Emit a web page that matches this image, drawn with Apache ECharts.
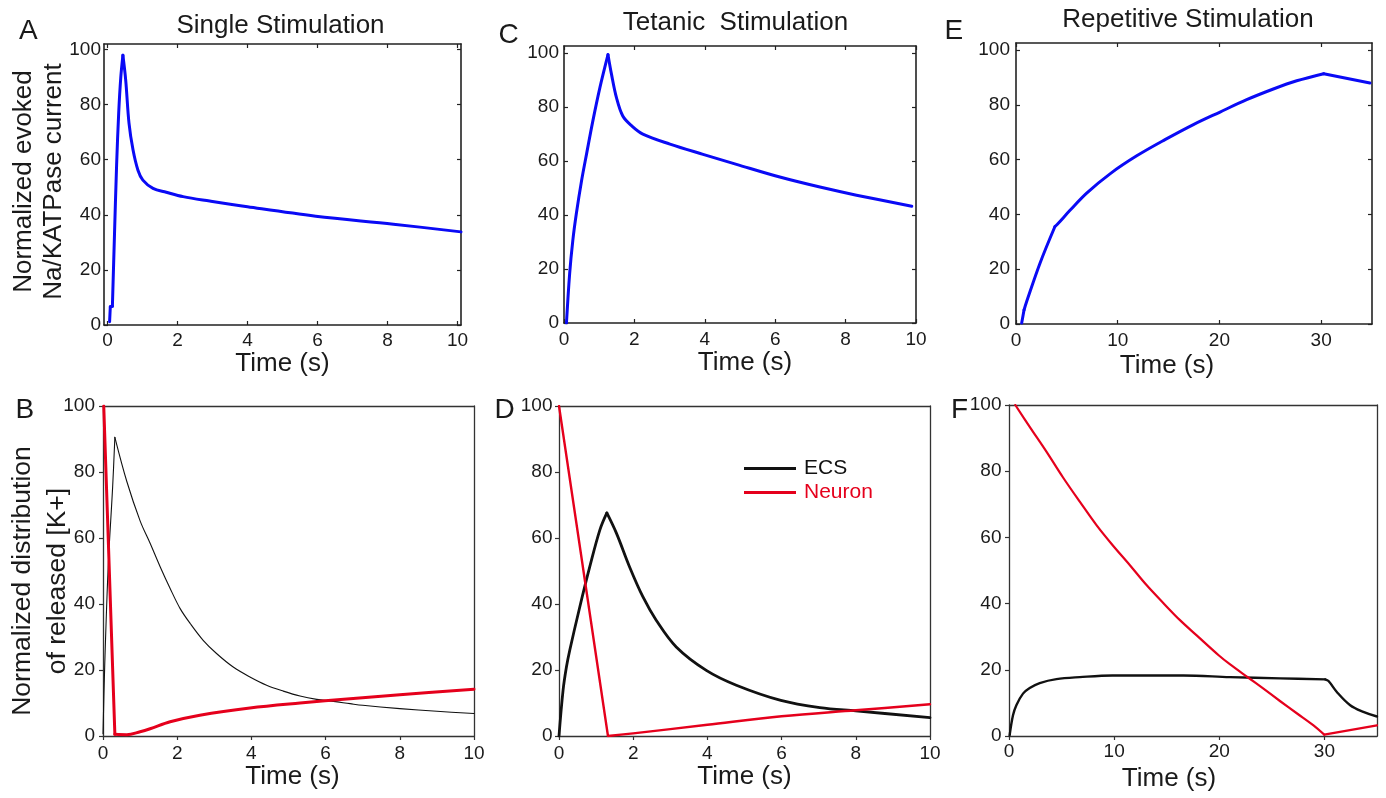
<!DOCTYPE html>
<html>
<head>
<meta charset="utf-8">
<title>Na/K-ATPase current and K+ distribution</title>
<script src="https://cdn.jsdelivr.net/npm/echarts@6/dist/echarts.min.js"></script>
<style>
  html, body { margin: 0; padding: 0; background: #ffffff; }
  #chart { width: 1386px; height: 798px; }
</style>
</head>
<body>
<div id="chart"></div>
<script>
// ---------- tick labels ----------
const ticksTime10 = [0, 2, 4, 6, 8, 10];
const ticksTime35 = [0, 10, 20, 30];
const ticksPercent = [0, 20, 40, 60, 80, 100];

// ---------- A: single stimulation, evoked pump current ----------
const aTime    = [0.06, 0.08, 0.14, 0.20, 0.26, 0.32, 0.38, 0.44, 0.52, 0.615, 0.73, 0.87, 1.01, 1.30, 1.68, 2.16, 2.92, 4.0, 5.95, 8.17, 10.1];
const aCurrent = [1.2, 6.6, 6.8, 33, 58, 77, 90, 97.9, 88.9, 73.2, 63.5, 56.2, 52.6, 49.6, 48.2, 46.6, 45.0, 42.9, 39.5, 36.6, 33.8];
const aCorners = [1, 2, 7];

// ---------- B: single stimulation, K+ distribution ----------
const bEcsTime    = [0, 0.045, 0.14, 0.26, 0.32, 0.64, 1.0, 1.27, 1.54, 1.81, 2.08, 2.35, 2.70, 3.06, 3.51, 3.96, 4.41, 4.86, 5.31, 5.76, 6.21, 6.66, 7.0, 8.0, 9.0, 10.0];
const bEcs        = [0.7, 20.9, 51.3, 75.5, 90.5, 77.2, 65.2, 58.4, 51.3, 44.7, 38.6, 34.1, 29.0, 25.0, 20.9, 17.9, 15.4, 13.6, 12.1, 11.1, 10.5, 9.8, 9.3, 8.3, 7.5, 6.8];
const bEcsCorners = [4];
const bNeuronTime = [0.02, 0.32, 0.64, 1.0, 1.27, 1.81, 2.61, 3.96, 5.31, 6.66, 8.0, 10.0];
const bNeuron     = [100, 0.5, 0.4, 1.3, 2.2, 4.3, 6.3, 8.5, 10.0, 11.3, 12.5, 14.2];
const bNeuronCorners = [1];

// ---------- C: tetanic stimulation, evoked pump current ----------
const cTime    = [0.07, 0.16, 0.25, 0.35, 0.50, 0.64, 0.82, 1.02, 1.25, 1.35, 1.49, 1.67, 1.92, 2.24, 3.01, 3.95, 4.90, 6.13, 7.27, 8.31, 9.88];
const cCurrent = [0, 18.2, 30.5, 40.4, 52.7, 62.5, 74.8, 87.1, 99.3, 92.0, 83.4, 76.6, 73.0, 69.9, 66.2, 62.4, 58.7, 54.0, 50.3, 47.3, 43.2];
const cCorners = [8];

// ---------- D: tetanic stimulation, K+ distribution ----------
const dEcsTime    = [0, 0.11, 0.20, 0.29, 0.56, 0.83, 1.1, 1.29, 1.55, 1.90, 2.26, 2.62, 3.16, 3.97, 4.78, 5.98, 7.03, 8.0, 10.0];
const dEcs        = [0, 13.9, 20.9, 26, 39.1, 51.3, 62.4, 67.6, 61.4, 51.3, 42.2, 35.1, 27, 19.9, 15.4, 10.8, 8.6, 7.6, 5.6];
const dEcsCorners = [7];
const dNeuronTime = [0, 1.32, 2.0, 4.0, 6.0, 8.0, 10.0];
const dNeuron     = [100, 0, 0.8, 3.4, 6.0, 7.8, 9.6];
const dNeuronCorners = [1];

// ---------- E: repetitive stimulation, evoked pump current ----------
const eTime    = [0.56, 0.79, 1.05, 2.36, 3.83, 4.16, 5.31, 6.95, 9.34, 11.87, 14.65, 17.44, 20.06, 22.68, 25.30, 27.6, 30.25, 34.8];
const eCurrent = [0.4, 5.1, 8.2, 22.2, 35.6, 36.8, 41.5, 47.8, 55.1, 61.4, 67.3, 72.8, 77.4, 81.9, 85.8, 88.8, 91.4, 88.0];
const eCorners = [1, 4, 16];

// ---------- F: repetitive stimulation, K+ distribution ----------
const fEcsTime    = [0.06, 0.38, 0.70, 1.33, 1.97, 2.92, 4.51, 6.73, 9.84, 16.6, 21.0, 25.8, 30.07, 30.39, 31.18, 32.45, 33.7, 35];
const fEcs        = [0.2, 6.25, 9.3, 12.8, 14.5, 16.0, 17.2, 17.8, 18.3, 18.3, 17.8, 17.4, 17.1, 16.6, 13.3, 9.3, 7.3, 5.9];
const fEcsCorners = [12];
const fNeuronTime = [0.6, 1.97, 3.56, 5.14, 6.73, 8.32, 9.84, 11.5, 13.08, 14.67, 16.26, 17.85, 19.94, 21.0, 22.77, 24.2, 25.8, 27.4, 28.96, 29.98, 35];
const fNeuron     = [100, 93.4, 85.9, 78.1, 70.8, 63.7, 57.7, 51.6, 45.6, 40.2, 35.0, 30.4, 24.4, 21.7, 17.6, 14.3, 10.5, 6.8, 3.2, 0.4, 3.2];
const fNeuronCorners = [19];

// ---------- styling ----------
const FONT = "'Liberation Sans', Arial, Helvetica, sans-serif";
const INK = '#1a1a1a';
const BLUE = '#0a0af5';
const RED = '#e5001c';
const BLACK = '#111111';
const SMOOTH = 0.35;

// Split a trace into smooth pieces that meet at the listed corner indices,
// so the spline stays sharp at kinks and peaks.
function tracePieces(xs, ys, corners) {
  const cuts = [0].concat(corners || [], [xs.length - 1]);
  const pieces = [];
  for (let k = 0; k < cuts.length - 1; k++) {
    const piece = [];
    for (let i = cuts[k]; i <= cuts[k + 1]; i++) piece.push([xs[i], ys[i]]);
    pieces.push(piece);
  }
  return pieces;
}

// Panel frames: upper row uses a boxed frame with inward ticks on all sides,
// lower row a thin frame with short outward ticks.
const panels = [
  { grid: { left: 104, top: 44, width: 357, height: 281 }, upper: true,
    x: [-0.1, 10.1], xt: ticksTime10, y: [0, 102], yt: ticksPercent,
    xMargin: 6, yMargin: 3, xGap: 24, xPad: [0, 0, 0, 0],
    yName: 'Normalized evoked\nNa/KATPase current', yGap: 35, yFont: 26, yLine: 30, yPad: [0, 0, 0, 6] },
  { grid: { left: 103, top: 406, width: 371, height: 330 }, upper: false,
    x: [0, 10], xt: ticksTime10, y: [0, 100], yt: ticksPercent,
    xMargin: 8, yMargin: 8, xGap: 27, xPad: [0, 0, 0, 8],
    yName: 'Normalized distribution\nof released [K+]', yGap: 28, yFont: 26.5, yLine: 35, yPad: [0, 20, 0, 0] },
  { grid: { left: 564, top: 46, width: 352, height: 277 }, upper: true,
    x: [0, 10], xt: ticksTime10, y: [0, 102.5], yt: ticksPercent,
    xMargin: 7, yMargin: 5, xGap: 26, xPad: [0, 0, 0, 10] },
  { grid: { left: 559, top: 406, width: 371, height: 330 }, upper: false,
    x: [0, 10], xt: ticksTime10, y: [0, 100], yt: ticksPercent,
    xMargin: 8, yMargin: 6.5, xGap: 27, xPad: [0, 0, 0, 0] },
  { grid: { left: 1016, top: 43, width: 356, height: 281 }, upper: true,
    x: [0, 35], xt: ticksTime35, y: [0, 102.6], yt: ticksPercent,
    xMargin: 7, yMargin: 6, xGap: 29, xPad: [0, 54, 0, 0] },
  { grid: { left: 1009, top: 405, width: 368, height: 331 }, upper: false,
    x: [0, 35], xt: ticksTime35, y: [0, 100], yt: ticksPercent,
    xMargin: 6.5, yMargin: 7.5, xGap: 30, xPad: [0, 48, 0, 0] }
];

const grids = [], xAxes = [], yAxes = [];
const xIndex = [], yIndex = [];

panels.forEach((p, gi) => {
  const lineColor = p.upper ? '#222222' : '#333333';
  const lineWidth = p.upper ? 1.6 : 1.3;
  const tickFont = 19;
  grids.push(Object.assign({ show: false, containLabel: false, outerBoundsMode: 'none' }, p.grid));

  const common = (range, ticks, margin) => ({
    gridIndex: gi, type: 'value', min: range[0], max: range[1],
    axisLine: { show: true, onZero: false, lineStyle: { color: lineColor, width: lineWidth } },
    axisTick: { show: true, inside: p.upper, length: 4, customValues: ticks,
                lineStyle: { color: lineColor, width: 1.2 } },
    axisLabel: { show: true, customValues: ticks, margin: margin, color: INK,
                 fontFamily: FONT, fontSize: tickFont },
    splitLine: { show: false },
    axisPointer: { show: false }
  });

  // bottom time axis
  const xa = common(p.x, p.xt, p.xMargin);
  xa.position = 'bottom';
  xa.name = 'Time (s)';
  xa.nameLocation = 'middle';
  xa.nameGap = p.xGap;
  xa.nameTextStyle = { fontFamily: FONT, fontSize: 26, color: INK, padding: p.xPad };
  xIndex.push(xAxes.length);
  xAxes.push(xa);

  // left percentage axis
  const ya = common(p.y, p.yt, p.yMargin);
  ya.position = 'left';
  if (p.yName) {
    ya.name = p.yName;
    ya.nameLocation = 'middle';
    ya.nameGap = p.yGap;
    ya.nameMoveOverlap = false;
    ya.nameTextStyle = { fontFamily: FONT, fontSize: p.yFont, lineHeight: p.yLine,
                         color: INK, padding: p.yPad };
  }
  yIndex.push(yAxes.length);
  yAxes.push(ya);

  // top and right edges of the frame
  const xt = common(p.x, p.xt, 0);
  xt.position = 'top';
  xt.axisLabel = { show: false };
  xt.axisTick.show = p.upper;
  xAxes.push(xt);

  const yr = common(p.y, p.yt, 0);
  yr.position = 'right';
  yr.axisLabel = { show: false };
  yr.axisTick.show = p.upper;
  yAxes.push(yr);
});

const series = [];
function addTrace(name, gi, xs, ys, corners, color, width) {
  tracePieces(xs, ys, corners).forEach(piece => {
    series.push({
      type: 'line', name: name, data: piece,
      xAxisIndex: xIndex[gi], yAxisIndex: yIndex[gi],
      showSymbol: false, symbol: 'none', smooth: SMOOTH, clip: true,
      lineStyle: { color: color, width: width, join: 'round', cap: 'round' },
      itemStyle: { color: color },
      emphasis: { disabled: true },
      animation: false
    });
  });
}

addTrace('Pump A', 0, aTime, aCurrent, aCorners, BLUE, 3);
addTrace('ECS', 1, bEcsTime, bEcs, bEcsCorners, BLACK, 1.1);
addTrace('Neuron', 1, bNeuronTime, bNeuron, bNeuronCorners, RED, 3);
addTrace('Pump C', 2, cTime, cCurrent, cCorners, BLUE, 3);
addTrace('ECS', 3, dEcsTime, dEcs, dEcsCorners, BLACK, 2.8);
addTrace('Neuron', 3, dNeuronTime, dNeuron, dNeuronCorners, RED, 2.4);
addTrace('Pump E', 4, eTime, eCurrent, eCorners, BLUE, 3);
addTrace('ECS', 5, fEcsTime, fEcs, fEcsCorners, BLACK, 2.4);
addTrace('Neuron', 5, fNeuronTime, fNeuron, fNeuronCorners, RED, 2.2);

// column titles and panel letters
const label = (text, x, y, size, align) => ({
  type: 'text', x: x, y: y, silent: true,
  style: { text: text, fill: INK, fontFamily: FONT, fontSize: size,
           align: align, verticalAlign: 'middle' }
});

const graphics = [
  label('Single Stimulation', 280.5, 26, 26, 'center'),
  label('Tetanic  Stimulation', 735.5, 23, 26, 'center'),
  label('Repetitive Stimulation', 1188, 19.5, 26, 'center'),
  label('A', 19, 31.7, 28, 'left'),
  label('B', 15.5, 410, 28, 'left'),
  label('C', 498.5, 35.5, 28, 'left'),
  label('D', 494.5, 410, 28, 'left'),
  label('E', 944.5, 30.8, 28, 'left'),
  label('F', 951, 410.3, 28, 'left')
];

const chart = echarts.init(document.getElementById('chart'), null, { renderer: 'canvas' });
chart.setOption({
  backgroundColor: '#ffffff',
  animation: false,
  grid: grids,
  xAxis: xAxes,
  yAxis: yAxes,
  legend: {
    show: true, orient: 'vertical', left: 739, top: 453,
    itemWidth: 52, itemHeight: 3, itemGap: 3, icon: 'rect',
    selectedMode: false,
    textStyle: { fontFamily: FONT, fontSize: 21, padding: [0, 0, 0, 3] },
    data: [
      { name: 'ECS', textStyle: { color: BLACK } },
      { name: 'Neuron', textStyle: { color: RED } }
    ]
  },
  series: series,
  graphic: graphics
});
</script>
</body>
</html>
